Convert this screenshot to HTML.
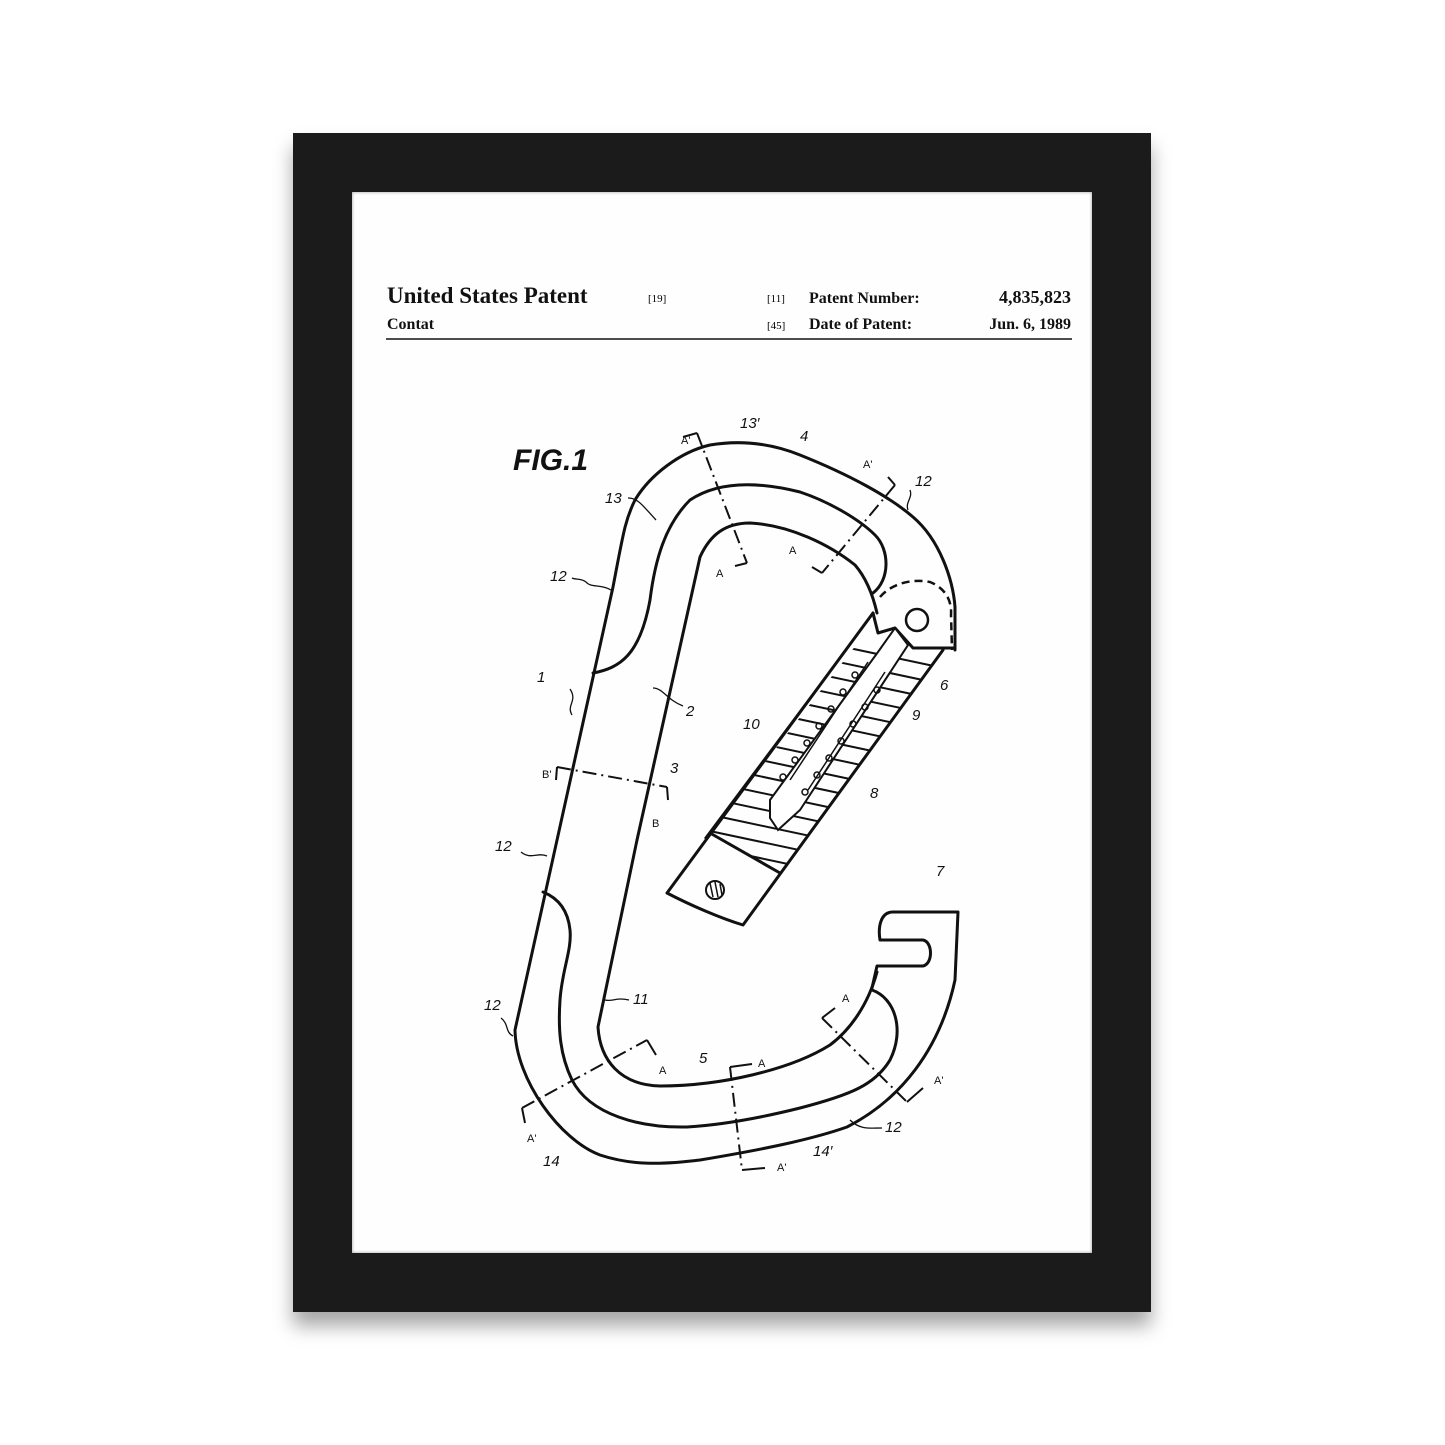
<!DOCTYPE html>
<html><head><meta charset="utf-8"><style>
html,body{margin:0;padding:0;background:#fff;}
body{width:1445px;height:1445px;position:relative;overflow:hidden;}
.frame{position:absolute;left:293px;top:133px;width:858px;height:1179px;background:#1b1b1b;box-shadow:0 14px 18px rgba(0,0,0,0.35);}
.paper{position:absolute;left:352px;top:192px;width:740px;height:1061px;background:#fefefe;box-shadow:inset 0 0 3px rgba(0,0,0,0.4);}
svg{position:absolute;left:0;top:0;}
.s{font-family:"Liberation Serif",serif;font-weight:bold;fill:#111;}
.l{font-family:"Liberation Sans",sans-serif;font-style:italic;fill:#111;font-size:15px;}
.a{font-family:"Liberation Sans",sans-serif;fill:#111;font-size:11px;}
</style></head><body>
<div class="frame"></div><div class="paper"></div>
<svg width="1445" height="1445" viewBox="0 0 1445 1445">
<g>
<text x="387" y="303" class="s" font-size="23">United States Patent</text>
<text x="648" y="302" font-family="Liberation Serif,serif" font-size="11">[19]</text>
<text x="767" y="302" font-family="Liberation Serif,serif" font-size="11">[11]</text>
<text x="809" y="303" class="s" font-size="16">Patent Number:</text>
<text x="1071" y="303" class="s" font-size="18" text-anchor="end">4,835,823</text>
<text x="387" y="329" class="s" font-size="16">Contat</text>
<text x="767" y="329" font-family="Liberation Serif,serif" font-size="11">[45]</text>
<text x="809" y="329" class="s" font-size="16">Date of Patent:</text>
<text x="1071" y="329" class="s" font-size="16" text-anchor="end">Jun. 6, 1989</text>
<line x1="386" y1="339" x2="1072" y2="339" stroke="#111" stroke-width="1.5"/>
</g>
<g fill="none" stroke="#111" stroke-width="3" stroke-linejoin="round" stroke-linecap="round">
<!-- outer contour -->
<path d="M955,650 L955,607 C953,580 940,540 913,517 C890,497 850,475 800,455 C770,443 740,440 710,445 C680,452 650,475 635,500 C625,520 623,535 613,587 L515,1030 C516,1080 560,1140 600,1155 C630,1165 660,1165 700,1160 C760,1150 810,1140 847,1127 C900,1100 940,1050 955,980 L958,912 L893,912 C880,912 878,928 880,940 L923,940 C933,942 933,964 923,966 L877,966 L872,988"/>
<!-- lower middle line -->
<path d="M872,990 C895,998 905,1030 890,1060 C875,1085 850,1095 800,1108 C760,1118 720,1125 687,1127 C640,1128 590,1115 572,1080 C560,1055 558,1030 560,1000 C562,970 572,950 570,930 C568,910 558,898 543,892"/>
<!-- lower inner line -->
<path d="M637,840 L598,1027 C600,1060 620,1085 660,1086 C720,1086 790,1070 830,1045 C850,1030 868,1005 877,972"/>
<!-- upper middle line -->
<path d="M593,673 C620,668 640,655 650,600 C655,560 665,525 690,500 C720,480 760,482 800,492 C830,502 860,520 875,535 C890,550 890,580 873,593"/>
<!-- upper inner line -->
<path d="M637,840 L700,557 C710,535 725,523 750,523 C790,525 830,545 855,565 C868,580 874,600 877,613"/>
<!-- gate -->
<path d="M873,613 L878,633 L895,628 L913,648 L953,648"/>
<path d="M873,613 L667,893 C690,905 720,918 743,925 L943,650"/>
<path d="M710,833 L780,873"/>
<path d="M853,640 L705,838" stroke-width="1.5"/>
</g>
<!-- dashed circle -->
<path d="M880,597 C890,585 910,578 930,582 C945,588 952,600 951,615 L952,650" fill="none" stroke="#111" stroke-width="2.5" stroke-dasharray="8,5"/>
<circle cx="917" cy="620" r="11" fill="none" stroke="#111" stroke-width="2.5"/>
<!-- hatching -->
<clipPath id="hc"><polygon points="873,625 860,640 710,833 780,873 930,670 943,650"/></clipPath>
<g clip-path="url(#hc)" stroke="#111" stroke-width="2">
<path d="M650,640 l400,0 M650,656 l400,0 M650,672 l400,0 M650,688 l400,0 M650,704 l400,0 M650,720 l400,0 M650,736 l400,0 M650,752 l400,0 M650,768 l400,0 M650,784 l400,0 M650,800 l400,0 M650,816 l400,0 M650,832 l400,0 M650,848 l400,0 M650,864 l400,0" transform="rotate(12 800 750)"/>
</g>
<!-- spring slot -->
<polygon points="895,628 908,645 800,810 778,830 770,818 770,800 878,652" fill="#fff" stroke="#111" stroke-width="2"/>
<g stroke="#111" stroke-width="1.5" fill="none">
<path d="M868,662 L790,780 M885,672 L808,790"/>
<circle cx="855" cy="675" r="3"/><circle cx="843" cy="692" r="3"/><circle cx="831" cy="709" r="3"/><circle cx="819" cy="726" r="3"/><circle cx="807" cy="743" r="3"/><circle cx="795" cy="760" r="3"/><circle cx="783" cy="777" r="3"/>
<circle cx="877" cy="690" r="3"/><circle cx="865" cy="707" r="3"/><circle cx="853" cy="724" r="3"/><circle cx="841" cy="741" r="3"/><circle cx="829" cy="758" r="3"/><circle cx="817" cy="775" r="3"/><circle cx="805" cy="792" r="3"/>
</g>
<circle cx="715" cy="890" r="9" fill="#fff" stroke="#111" stroke-width="2"/>
<path d="M710,883 l3,14 M715,882 l3,15 M720,884 l2,11" stroke="#111" stroke-width="1.5"/>
<!-- section lines -->
<g fill="none" stroke="#111" stroke-width="2">
<path d="M697,433 L747,563" stroke-dasharray="14,5,2,5"/>
<path d="M697,433 L683,437 M747,563 L735,566"/>
<path d="M895,485 L822,573" stroke-dasharray="14,5,2,5"/>
<path d="M895,485 L888,477 M822,573 L812,567"/>
<path d="M557,767 L667,787" stroke-dasharray="14,5,2,5"/>
<path d="M557,767 L556,780 M667,787 L668,800"/>
<path d="M522,1108 L647,1040" stroke-dasharray="14,5,2,5"/><path d="M522,1108 L525,1123 M647,1040 L656,1055"/>
<path d="M730,1067 L742,1170" stroke-dasharray="14,5,2,5"/><path d="M730,1067 L752,1064 M742,1170 L765,1168"/>
<path d="M822,1018 L907,1102" stroke-dasharray="14,5,2,5"/><path d="M822,1018 L835,1008 M907,1102 L923,1088"/>
</g>
<!-- labels -->
<text x="513" y="470" font-family="Liberation Sans,sans-serif" font-weight="bold" font-style="italic" font-size="30" fill="#111">FIG.1</text>
<text x="740" y="428" class="l">13′</text><text x="800" y="441" class="l">4</text>
<text x="915" y="486" class="l">12</text><text x="605" y="503" class="l">13</text>
<text x="550" y="581" class="l">12</text><text x="940" y="690" class="l">6</text>
<text x="912" y="720" class="l">9</text><text x="537" y="682" class="l">1</text>
<text x="686" y="716" class="l">2</text><text x="743" y="729" class="l">10</text>
<text x="670" y="773" class="l">3</text><text x="870" y="798" class="l">8</text>
<text x="495" y="851" class="l">12</text><text x="936" y="876" class="l">7</text>
<text x="633" y="1004" class="l">11</text><text x="484" y="1010" class="l">12</text>
<text x="699" y="1063" class="l">5</text><text x="543" y="1166" class="l">14</text>
<text x="885" y="1132" class="l">12</text><text x="813" y="1156" class="l">14′</text>
<g class="a">
<text x="681" y="444" class="a">A'</text><text x="863" y="468" class="a">A'</text>
<text x="716" y="577" class="a">A</text><text x="789" y="554" class="a">A</text>
<text x="542" y="778" class="a">B'</text><text x="652" y="827" class="a">B</text>
<text x="659" y="1074" class="a">A</text><text x="758" y="1067" class="a">A</text>
<text x="842" y="1002" class="a">A</text><text x="934" y="1084" class="a">A'</text>
<text x="527" y="1142" class="a">A'</text><text x="777" y="1171" class="a">A'</text>
</g>
<g fill="none" stroke="#111" stroke-width="1.3">
<path d="M611,590 c-10,-6 -20,-2 -25,-8 c-5,-4 -10,-2 -14,-4"/>
<path d="M628,498 c10,0 15,8 28,22"/>
<path d="M908,510 c-3,-8 5,-12 2,-20"/>
<path d="M572,715 c-6,-10 6,-14 -2,-26"/>
<path d="M653,688 c10,0 14,12 30,18"/>
<path d="M547,856 c-10,-4 -16,4 -26,-4"/>
<path d="M513,1036 c-8,-4 -4,-12 -12,-18"/>
<path d="M605,1000 c8,2 10,-3 24,0"/>
<path d="M850,1120 c10,10 20,8 32,8"/>
</g>
</svg>
</body></html>
